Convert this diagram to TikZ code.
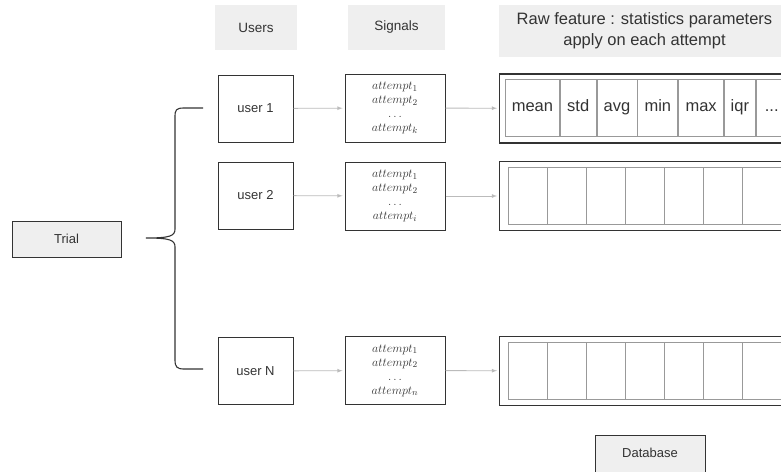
\documentclass[tikz,border=0pt]{standalone}
\usepackage{fontspec}
\setmainfont{Liberation Sans}
\usepackage{tikz}
\usetikzlibrary{arrows,positioning}
\definecolor{headgray}{HTML}{EFEFEF}
\definecolor{boxline}{HTML}{333333}
\definecolor{cellline}{HTML}{999999}
\definecolor{arrowgray}{HTML}{BBBBBB}
\definecolor{textgray}{HTML}{333333}

\begin{document}
\begin{tikzpicture}[x=1pt,y=-1pt,
            header/.style={fill=headgray,text=textgray,inner sep=0,align=center},
            userbox/.style={draw=boxline,line width=1pt,minimum width=75pt,minimum height=67pt,text=textgray,font=\fontsize{13}{15}\selectfont},
            sigbox/.style={draw=boxline,line width=1pt,minimum width=100pt,minimum height=68pt,align=center,inner sep=0,text=textgray,font=\fontsize{13}{14}\selectfont},
            featbox/.style={draw=boxline,line width=1.3pt,minimum width=291pt,minimum height=69pt,anchor=west},
            cell/.style={draw=cellline,line width=.8pt,minimum height=57pt,inner sep=0,text height=12pt,text depth=3.5pt,anchor=west,text=textgray,font=\fontsize{16.5}{20}\selectfont},
            greybox/.style={draw=boxline,line width=1pt,fill=headgray,text=textgray,font=\fontsize{13}{15}\selectfont},
            flow/.style={draw=arrowgray,line width=.8pt,-latex,shorten >=2pt},
            brace/.style={draw=boxline,line width=1.1pt}
          ]
          \clip (0,0) rectangle (781,471);

          %headers
          \node[header,minimum width=82pt,minimum height=45pt,font=\fontsize{13.5}{16}\selectfont] (users) at (256,27.5) {Users};
          \node[header,minimum width=97pt,minimum height=45pt,font=\fontsize{13.5}{16}\selectfont] (signals) at (396.5,27.5) {Signals};
          \node[header,minimum width=291pt,minimum height=52pt,font=\fontsize{16.5}{21}\selectfont] (raw) at (644.5,31) {Raw feature : statistics parameters\\apply on each attempt};

          %trial and users
          \node[greybox,minimum width=109pt,minimum height=36pt] (trial) at (66.5,239) {Trial};
          \node[userbox] (user1) at (255.5,108.5) {user 1};
          \node[userbox] (user2) at (255.5,195.5) {user 2};
          \node[userbox] (userN) at (255.5,371) {user N};

          %signals
          \node[sigbox] (sig1) at (395,108) {$attempt_1$\\$attempt_2$\\$\dots$\\$attempt_k$};
          \node[sigbox] (sig2) at (395,196) {$attempt_1$\\$attempt_2$\\$\dots$\\$attempt_i$};
          \node[sigbox] (sigN) at (395,370.5) {$attempt_1$\\$attempt_2$\\$\dots$\\$attempt_n$};

          %feature rows
          \node[featbox] (feat1) at (499,108.5) {};
          \node[featbox] (feat2) at (499,196) {};
          \node[featbox] (featN) at (499,371) {};

          \node[cell,minimum width=54pt] (mean) at (505,107.5) {mean};
          \node[cell,minimum width=36pt,right=0pt of mean] (std) {std};
          \node[cell,minimum width=40pt,right=0pt of std] (avg) {avg};
          \node[cell,minimum width=40pt,right=0pt of avg] (min) {min};
          \node[cell,minimum width=45pt,right=0pt of min] (max) {max};
          \node[cell,minimum width=31pt,right=0pt of max] (iqr) {iqr};
          \node[cell,minimum width=31pt,right=0pt of iqr] (more) {...};

          \foreach \i in {0,...,7} {
            \node[cell,minimum width=39pt] (c2\i) at (508+39*\i,196) {};
            \node[cell,minimum width=39pt] (cN\i) at (508+39*\i,371) {};
          }

          %database
          \node[greybox,minimum width=110pt,minimum height=50pt] (db) at (650,460) {};
          \node[text=textgray,font=\fontsize{13}{15}\selectfont] (dblabel) at (650,453) {Database};

          %arrows
          \path[flow] (user1) -- (sig1);
          \path[flow] (user2) -- (sig2);
          \path[flow] (userN) -- (sigN);
          \path[flow] (sig1) -- (feat1);
          \path[flow] (sig2) -- (feat2);
          \path[flow] (sigN) -- (featN);

          %brace
          \coordinate (b1) at (203,108);
          \coordinate (tip) at (146,238);
          \coordinate (bN) at (203,369);
          \path[brace] (b1) -- (184,108) .. controls (176,108) and (175,110) .. (175,117)
            -- (175,229) .. controls (175,236) and (170,238) .. (tip)
            .. controls (170,238) and (175,240) .. (175,247)
            -- (175,360) .. controls (175,367) and (177,369) .. (184,369) -- (bN);
      \end{tikzpicture}
\end{document}
